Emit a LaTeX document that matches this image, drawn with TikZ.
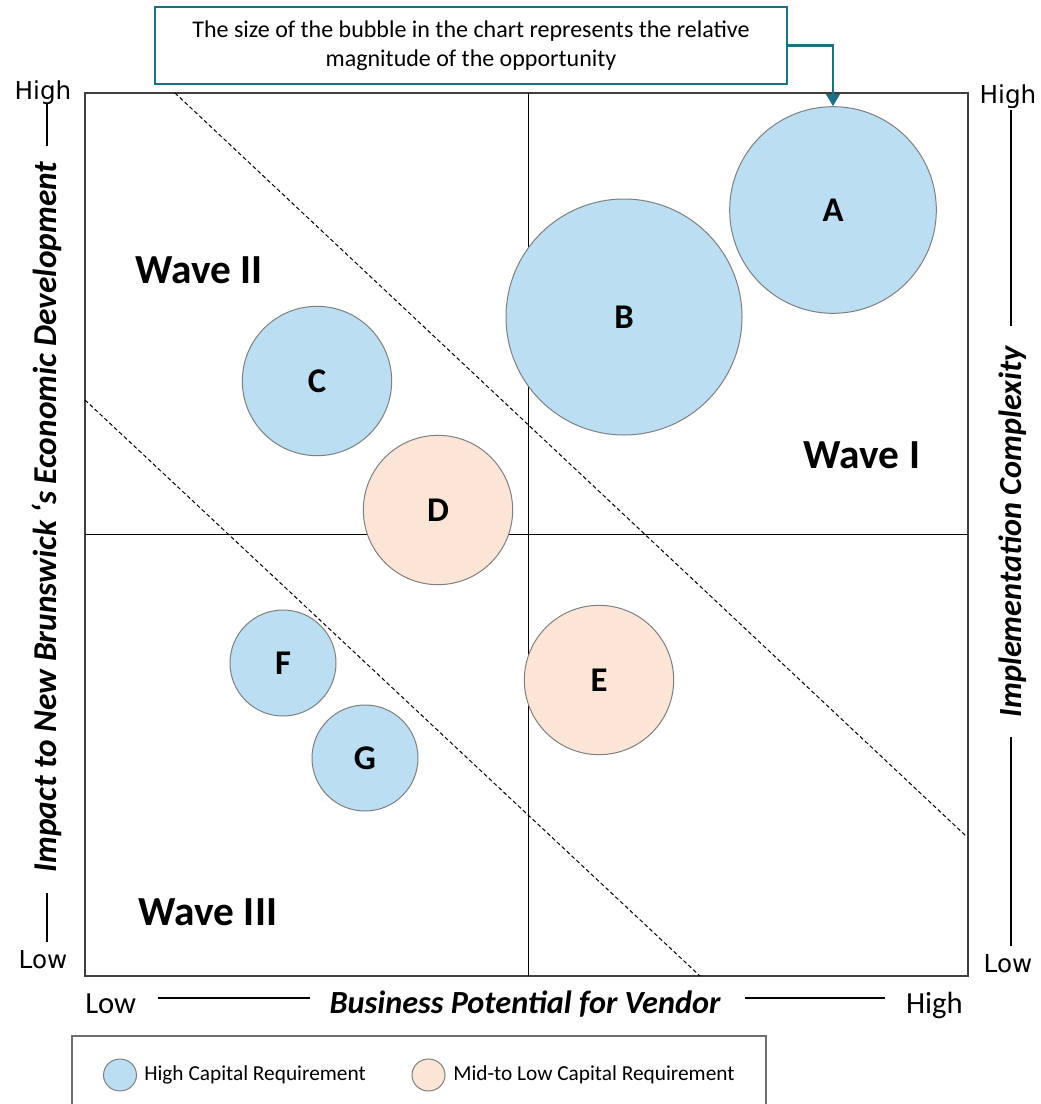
\documentclass[tikz,border=0pt]{standalone}
\usepackage{fontspec}
\setmainfont{Carlito}
\newfontfamily\dejavu{DejaVu Sans}
\usetikzlibrary{arrows.meta,shapes.geometric}
\definecolor{bblue}{HTML}{BBDEF3}
\definecolor{bpeach}{HTML}{FBE5D6}
\definecolor{tealc}{HTML}{1C6F84}
\definecolor{edgegray}{HTML}{7F7F7F}
\definecolor{framegray}{HTML}{3F3F3F}
\definecolor{legendgray}{HTML}{6F6F6F}
\begin{document}
\begin{tikzpicture}[x=0.75pt,y=-0.75pt,
 bubble/.style={circle,draw=edgegray,line width=0.75pt,inner sep=0pt,font=\fontsize{26}{30}\selectfont\bfseries},
 hcap/.style={bubble,fill=bblue},
 mcap/.style={bubble,fill=bpeach},
 wave/.style={font=\fontsize{31}{36}\selectfont\bfseries,inner sep=0pt},
 axtitle/.style={font=\fontsize{24.2}{28}\selectfont\bfseries\itshape,inner sep=0pt},
 axend/.style={font=\fontsize{23}{28}\selectfont,inner sep=0pt},
 sideend/.style={font=\dejavu\fontsize{18.5}{22}\selectfont,inner sep=0pt},
 axline/.style={line width=0.9pt,black},
 divider/.style={black,line width=0.75pt,dash pattern=on 3pt off 2pt},
 legtext/.style={font=\fontsize{16}{19}\selectfont,inner sep=0pt,anchor=base west},
 legmark/.style={ellipse,draw=edgegray,line width=0.75pt,minimum width=24.75pt,minimum height=24pt,inner sep=0pt}
]
\useasboundingbox (0,0) rectangle (1041,1104);
\fill[white] (0,0) rectangle (1041,1104);

% frame and quadrants
\draw[framegray,line width=1.1pt] (85,93) rectangle (968,976);
\draw[black,line width=0.75pt] (528,93) -- (528,976);
\draw[black,line width=0.75pt] (85,534) -- (968,534);

% dividers
\draw[divider] (175,93) -- (966,836);
\draw[divider] (85,400) -- (700,976);

% wave labels
\node[wave] (w2) at (199,270) {Wave II};
\node[wave] (w1) at (862,455) {Wave I};
\node[wave] (w3) at (208,912) {Wave III};

% bubbles
\node[hcap,minimum size=155pt] (A) at (833,210) {A};
\node[hcap,minimum size=177pt] (B) at (624,317) {B};
\node[hcap,minimum size=112pt] (C) at (317,381) {C};
\node[mcap,minimum size=112pt] (D) at (438,510) {D};
\node[mcap,minimum size=112pt] (E) at (599,680) {E};
\node[hcap,minimum size=79.5pt] (F) at (283,663) {F};
\node[hcap,minimum size=79.5pt] (G) at (365,758) {G};

% callout
\node[draw=tealc,line width=1.9pt,minimum width=474pt,minimum height=57.75pt,inner sep=0pt,
      align=center,font=\fontsize{18}{21.75}\selectfont] (call) at (471,45.5)
 {The size of the bubble in the chart represents the relative\\magnitude of the opportunity};
\draw[tealc,line width=1.9pt,-{Triangle[width=10pt,length=9pt]}] (call.east) -| (A.north);

% bottom axis
\node[axend,anchor=base west] (blow) at (85,1013) {Low};
\node[axend,anchor=base east] (bhigh) at (963,1013) {High};
\node[axtitle,anchor=base] (btitle) at (525,1013) {Business Potential for Vendor};
\draw[axline] (158,998) -- (310,998);
\draw[axline] (745,998) -- (885,998);

% left axis
\node[sideend,anchor=base] (lhigh) at (43,99) {High};
\node[sideend,anchor=base] (llow) at (43,968) {Low};
\node[axtitle,font=\fontsize{25}{28}\selectfont\bfseries\itshape,rotate=90] (ltitle) at (47,517) {Impact to New Brunswick ‘s Economic Development};
\draw[axline] (47,104) -- (47,146);
\draw[axline] (47,893) -- (47,942);

% right axis
\node[sideend,anchor=base] (rhigh) at (1008,103) {High};
\node[sideend,anchor=base] (rlow) at (1008,972) {Low};
\node[axtitle,rotate=90] (rtitle) at (1013,532) {Implementation Complexity};
\draw[axline] (1011,110) -- (1011,326);
\draw[axline] (1011,737) -- (1011,946);

% legend
\draw[legendgray,line width=1.9pt] (72,1106) -- (72,1036) -- (766,1036) -- (766,1106);
\node[legmark,fill=bblue] (lg1) at (120,1075) {};
\node[legtext] (lt1) at (144,1080) {High Capital Requirement};
\node[legmark,fill=bpeach] (lg2) at (428.5,1075) {};
\node[legtext] (lt2) at (453,1080) {Mid-to Low Capital Requirement};
\end{tikzpicture}
\end{document}
